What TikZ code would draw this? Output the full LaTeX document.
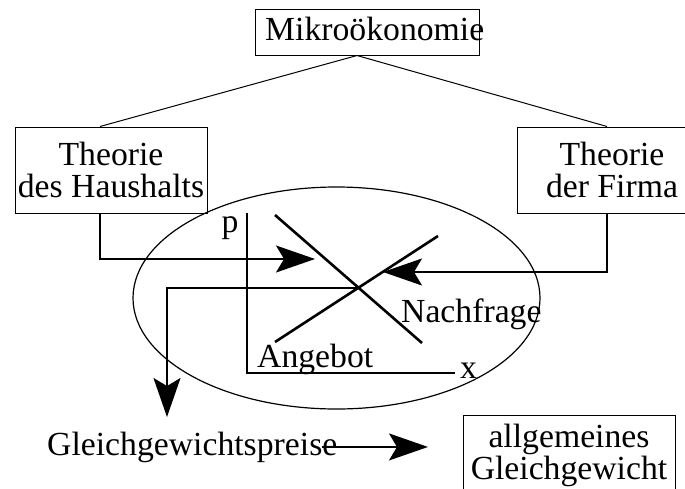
\documentclass[tikz,border=0pt]{standalone}
\usepackage{fontspec}
\setmainfont{Liberation Serif}
\usetikzlibrary{arrows.meta,shapes.geometric}
\begin{document}
\begin{tikzpicture}[x=1pt,y=-1pt,
  lbl/.style={font=\fontsize{33.7}{32}\selectfont, inner sep=0pt},
  box/.style={draw, line width=1pt, inner sep=0pt},
  thinline/.style={line width=1pt},
  conn/.style={line width=1.6pt},
  curve/.style={line width=2.6pt},
  axis/.style={line width=2pt},
  bigtip/.style={-{Stealth[length=39pt,width=27pt,inset=8pt]}}]
\useasboundingbox (0,0) rectangle (685,488);
\clip (0,0) rectangle (685,488);

% top box
\node[box, minimum width=224pt, minimum height=46pt] (mikro) at (367,32) {};
\node[lbl, anchor=base west] (mikrotext) at (265,40) {Mikroökonomie};

% the two theory boxes
\node[box, lbl, align=center, minimum width=192pt, minimum height=86pt] (hh) at (111,170) {Theorie\\des Haushalts};
\node[box, lbl, align=center, minimum width=190pt, minimum height=86pt] (fi) at (612,170) {Theorie\\der Firma};

\draw[thinline] ([xshift=-10pt]mikro.south) -- ([xshift=-11pt]hh.north);
\draw[thinline] ([xshift=-10pt]mikro.south) -- ([xshift=-5pt]fi.north);

% market ellipse
\node[draw, ellipse, line width=1.2pt, minimum width=407pt, minimum height=222pt, inner sep=0pt] (markt) at (336.5,298) {};

% price-quantity diagram
\coordinate (ptop) at (247,213);
\coordinate (orig) at (247,373);
\coordinate (xend) at (455,373);
\draw[axis] (ptop) -- (orig) -- (xend);
\node[lbl, anchor=base] (plbl) at (230,232) {p};
\node[lbl, anchor=base west] (xlbl) at (460,378) {x};

\coordinate (dA) at (275,215);
\coordinate (dB) at (422,343);
\coordinate (sA) at (275,342);
\coordinate (sB) at (438,236);
\draw[curve] (dA) -- (dB);
\draw[curve] (sA) -- (sB);
\coordinate (eq) at (intersection of dA--dB and sA--sB);
\node[lbl, anchor=base west] (nf) at (401,322) {Nachfrage};
\node[lbl, anchor=base west] (ang) at (257,367) {Angebot};

% flows into and out of the market
\coordinate (hhtip) at (315,259);
\coordinate (fitip) at (383,272);
\coordinate (downtip) at (167,417);
\draw[conn, bigtip] ([xshift=-11pt]hh.south) |- (hhtip);
\draw[conn, bigtip] ([xshift=-5pt]fi.south) |- (fitip);
\draw[conn, bigtip] (eq) -| (downtip);

% bottom row
\node[lbl, anchor=base west] (ggp) at (47,455) {Gleichgewichtspreise};
\node[box, lbl, align=center, minimum width=212pt, minimum height=80pt] (agg) at (569,455) {allgemeines\\Gleichgewicht};
\coordinate (ggtip) at (428,449);
\draw[conn, bigtip] ([xshift=-15pt]ggp.east) -- (ggp.east -| ggtip);
\end{tikzpicture}
\end{document}
